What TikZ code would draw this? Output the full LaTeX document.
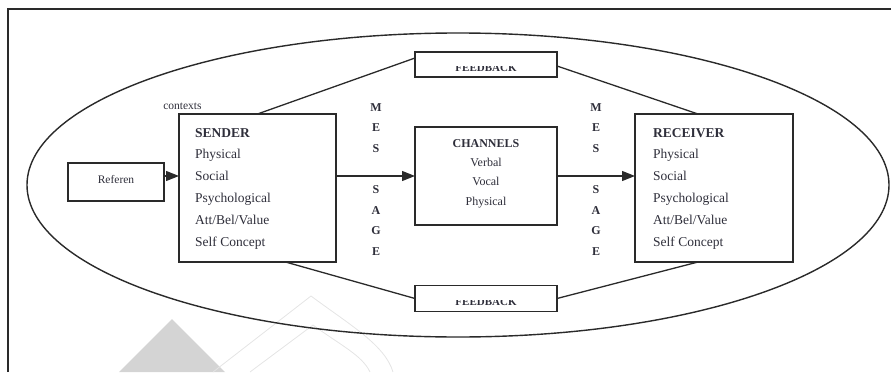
\documentclass[tikz,border=0pt]{standalone}
\usepackage{fontspec}
\setmainfont{Liberation Serif}
\usetikzlibrary{arrows.meta}
\definecolor{ln}{HTML}{2A2A2A}
\definecolor{txt}{HTML}{2E2E3A}
\definecolor{wmfill}{HTML}{D4D4D4}
\definecolor{wmline}{HTML}{E4E4E4}
\tikzset{
  box/.style={draw=ln, line width=1.4pt, inner sep=0pt, outer sep=0pt},
  conn/.style={draw=ln, line width=1.3pt},
  arr/.style={draw=ln, line width=1.3pt, -{Triangle[length=13pt,width=10pt]}},
  big/.style={font=\fontsize{13.5}{16}\selectfont, text=txt, inner sep=0pt},
  mid/.style={font=\fontsize{12}{14}\selectfont, text=txt, inner sep=0pt, anchor=base},
  small/.style={font=\fontsize{11.5}{14}\selectfont, text=txt, inner sep=0pt, anchor=base},
  letter/.style={font=\bfseries\fontsize{12}{14}\selectfont, text=txt, inner sep=0pt, anchor=base},
  fbtext/.style={font=\bfseries\fontsize{11}{13}\selectfont, text=txt, inner sep=0pt, anchor=base},
}
\begin{document}
\begin{tikzpicture}[x=1pt,y=-1pt]
\useasboundingbox (0,0) rectangle (891,372);
% watermark
\fill[wmfill] (172,319) -- (119,372) -- (225,372) -- cycle;
\draw[wmline, line width=0.8pt] (213,372) -- (311,296) .. controls (350,325) and (385,345) .. (393,372);
\draw[wmline, line width=0.8pt] (250,372) -- (313,325) .. controls (340,345) and (362,355) .. (370,372);
% frame
\draw[ln, line width=1.3pt] (8,372) -- (8,9) -- (891,9);
% context ellipse
\draw[ln, line width=1.4pt] (458,185) ellipse [x radius=431, y radius=152];
% boxes
\node[box, minimum width=157pt, minimum height=148pt] (sender) at (257.5,188) {};
\node[box, minimum width=158pt, minimum height=148pt] (receiver) at (714,188) {};
\node[box, minimum width=142pt, minimum height=98pt] (channels) at (486,176) {};
\node[box, minimum width=96pt, minimum height=38pt] (referen) at (116,182) {};
\node[box, minimum width=142pt, minimum height=25pt] (fbtop) at (486,64.5) {};
\node[box, minimum width=142pt, minimum height=26pt] (fbbot) at (486,298.5) {};
% sender / receiver texts
\node[big, anchor=base west] (s0) at (195,137) {\bfseries SENDER};
\node[big, anchor=base west] (r0) at (653,137) {\bfseries RECEIVER};
\foreach \t [count=\i] in {Physical,Social,Psychological,{Att/Bel/Value},Self Concept} {
  \node[big, anchor=base west] (s\i) at (195,{137+21.8*\i}) {\t};
  \node[big, anchor=base west] (r\i) at (653,{137+21.8*\i}) {\t};
}
% channels texts
\node[mid] (c0) at (486,147.5) {\bfseries CHANNELS};
\node[mid] (c1) at (486,166.7) {Verbal};
\node[mid] (c2) at (486,185.9) {Vocal};
\node[mid] (c3) at (486,205.1) {Physical};
% message letters
\foreach \l/\yy [count=\i] in {M/111,E/131.6,S/152.2,S/193.4,A/214,G/234.6,E/255.2} {
  \node[letter] (ml\i) at (376,\yy) {\l};
  \node[letter] (mr\i) at (596,\yy) {\l};
}
% other labels
\node[small] (reftxt) at (116,183.5) {Referen};
\node[small] (ctx) at (182.5,109) {contexts};
\begin{scope}
  \clip (415,66.7) rectangle (557,77);
  \node[fbtext] (fbt) at (486,71) {FEEDBACK};
\end{scope}
\begin{scope}
  \clip (415,300.7) rectangle (557,311);
  \node[fbtext] (fbb) at (486,305) {FEEDBACK};
\end{scope}
% connectors
\draw[conn] (sender.north) -- ([yshift=-6pt]fbtop.north west);
\draw[conn] ([yshift=-1.5pt]fbtop.east) -- ([xshift=-16pt]receiver.north);
\draw[conn] ([xshift=28pt]sender.south) -- (fbbot.west);
\draw[conn] (fbbot.east) -- ([xshift=-16pt]receiver.south);
% arrows
\draw[arr] ([yshift=6pt]referen.east) -- ([yshift=12pt]sender.west);
\draw[arr] ([yshift=12pt]sender.east) -- (channels.west);
\draw[arr] (channels.east) -- ([yshift=12pt]receiver.west);
\end{tikzpicture}
\end{document}
